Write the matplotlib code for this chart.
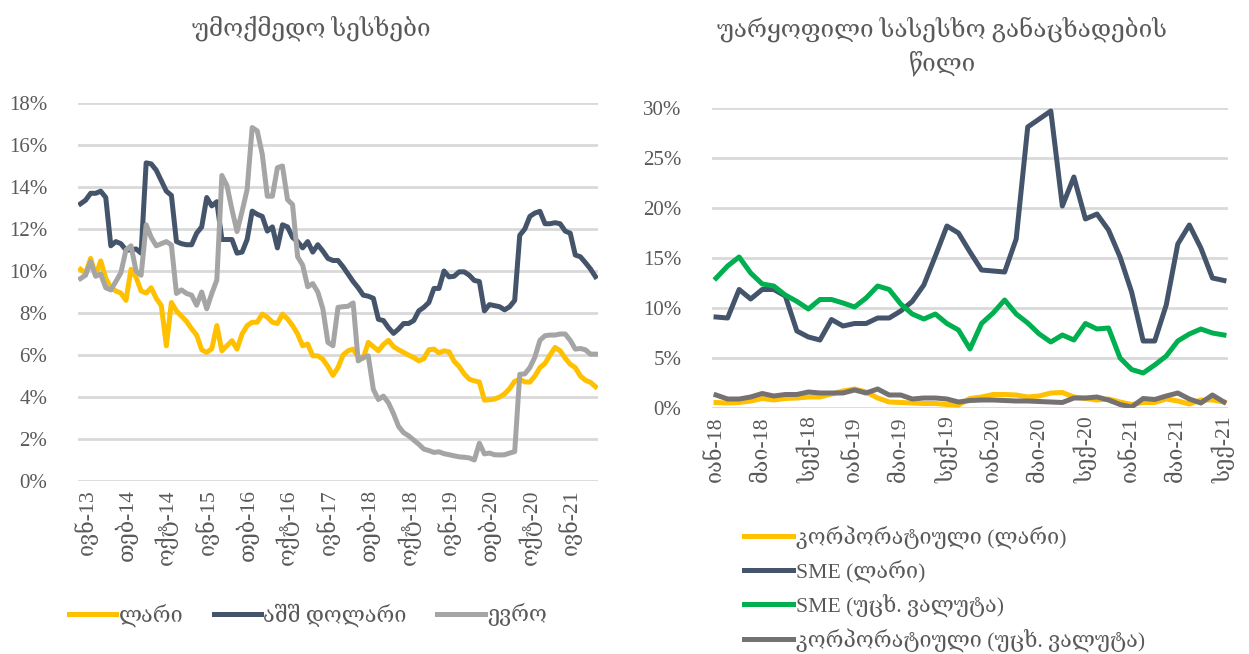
import matplotlib
matplotlib.use("Agg")
import matplotlib.pyplot as plt
import numpy as np

plt.rcParams['font.family'] = ['Liberation Serif', 'DejaVu Serif', 'DejaVu Sans']

# ---------------- left chart data (monthly, %) ----------------
left_ticklabels = ["ივნ-13", "თებ-14", "ოქტ-14", "ივნ-15", "თებ-16", "ოქტ-16", "ივნ-17",
                   "თებ-18", "ოქტ-18", "ივნ-19", "თებ-20", "ოქტ-20", "ივნ-21"]
lari = [10.08, 9.88, 10.6, 9.8, 10.48, 9.65, 9.2, 9.05, 8.95, 8.6,
        10.08, 9.7, 9.05, 8.95, 9.2, 8.7, 8.35, 6.44, 8.5, 8.1,
        7.85, 7.6, 7.25, 6.95, 6.25, 6.12, 6.3, 7.4, 6.2, 6.44,
        6.68, 6.28, 7.0, 7.4, 7.56, 7.56, 7.95, 7.8, 7.56, 7.5,
        7.95, 7.72, 7.4, 7.0, 6.44, 6.52, 5.96, 5.96, 5.8, 5.45,
        5.03, 5.4, 6.0, 6.2, 6.28, 5.9, 5.85, 6.6, 6.4, 6.2,
        6.5, 6.7, 6.4, 6.25, 6.12, 5.99, 5.88, 5.72, 5.83, 6.25,
        6.28, 6.1, 6.2, 6.15, 5.7, 5.45, 5.1, 4.85, 4.77, 4.71,
        3.85, 3.87, 3.9, 4.0, 4.15, 4.4, 4.75, 4.84, 4.72, 4.71,
        5.0, 5.4, 5.6, 6.0, 6.36, 6.2, 5.85, 5.56, 5.4, 5.0,
        4.8, 4.7, 4.49]
usd = [13.2, 13.37, 13.7, 13.7, 13.8, 13.5, 11.2, 11.4, 11.3, 11.0,
       11.0, 11.05, 10.85, 15.15, 15.1, 14.8, 14.3, 13.8, 13.6, 11.4,
       11.3, 11.25, 11.25, 11.8, 12.1, 13.5, 13.1, 13.3, 11.5, 11.5,
       11.5, 10.85, 10.9, 11.5, 12.85, 12.7, 12.6, 11.9, 12.1, 11.1,
       12.2, 12.1, 11.6, 11.4, 11.1, 11.4, 10.9, 11.25, 10.95, 10.6,
       10.5, 10.5, 10.2, 9.85, 9.5, 9.2, 8.85, 8.8, 8.7, 7.7,
       7.64, 7.3, 7.03, 7.24, 7.5, 7.5, 7.64, 8.1, 8.27, 8.5,
       9.17, 9.17, 10.0, 9.72, 9.75, 9.96, 9.96, 9.8, 9.55, 9.5,
       8.1, 8.4, 8.35, 8.3, 8.15, 8.3, 8.6, 11.7, 12.0, 12.6,
       12.76, 12.84, 12.25, 12.25, 12.3, 12.25, 11.9, 11.8, 10.76, 10.68,
       10.4, 10.1, 9.73]
eur = [9.64, 9.8, 10.45, 9.75, 9.85, 9.2, 9.1, 9.5, 9.92, 11.0,
       11.2, 10.0, 9.8, 12.2, 11.6, 11.2, 11.3, 11.4, 11.24, 8.93,
       9.1, 8.93, 8.85, 8.37, 9.0, 8.2, 8.93, 9.57, 14.55, 14.07,
       12.92, 11.88, 12.84, 13.88, 16.83, 16.67, 15.56, 13.56, 13.56, 14.92,
       15.0, 13.4, 13.16, 10.68, 10.28, 9.25, 9.4, 9.0, 8.2, 6.6,
       6.44, 8.27, 8.3, 8.32, 8.48, 5.72, 5.88, 5.96, 4.36, 3.88,
       4.04, 3.72, 3.2, 2.6, 2.3, 2.15, 1.95, 1.75, 1.52, 1.45,
       1.36, 1.39, 1.3, 1.25, 1.2, 1.15, 1.13, 1.1, 1.0, 1.8,
       1.29, 1.33, 1.25, 1.24, 1.25, 1.33, 1.4, 5.08, 5.1, 5.4,
       5.9, 6.7, 6.92, 6.95, 6.95, 7.0, 7.0, 6.7, 6.28, 6.31,
       6.25, 6.04, 6.04]

# ---------------- right chart data (monthly, %) ----------------
right_ticklabels = ["იან-18", "მაი-18", "სექ-18", "იან-19", "მაი-19", "სექ-19",
                    "იან-20", "მაი-20", "სექ-20", "იან-21", "მაი-21", "სექ-21"]
corp_lari = [0.55, 0.5, 0.55, 0.7, 0.95, 0.8, 0.95, 1.0, 1.1, 1.1,
             1.4, 1.7, 1.9, 1.6, 1.0, 0.6, 0.55, 0.5, 0.45, 0.45,
             0.35, 0.3, 0.95, 1.1, 1.35, 1.35, 1.3, 1.1, 1.2, 1.5,
             1.55, 1.1, 0.95, 0.8, 0.9, 0.6, 0.35, 0.55, 0.55, 0.9,
             0.7, 0.4, 0.8, 0.8, 0.6]
sme_lari = [9.1, 9.0, 11.85, 10.9, 11.85, 11.85, 11.2, 7.7, 7.1, 6.8,
            8.85, 8.2, 8.45, 8.45, 9.0, 9.0, 9.7, 10.66, 12.3, 15.2,
            18.2, 17.5, 15.6, 13.8, 13.7, 13.6, 16.9, 28.1, 28.9, 29.7,
            20.2, 23.1, 18.9, 19.4, 17.8, 15.1, 11.6, 6.7, 6.7, 10.3,
            16.4, 18.3, 16.0, 13.0, 12.75]
sme_fx = [12.98, 14.2, 15.1, 13.5, 12.4, 12.2, 11.3, 10.66, 9.9, 10.85,
          10.85, 10.5, 10.1, 11.0, 12.2, 11.85, 10.4, 9.4, 8.9, 9.4,
          8.45, 7.8, 5.9, 8.45, 9.5, 10.8, 9.4, 8.5, 7.4, 6.6,
          7.3, 6.8, 8.45, 7.9, 8.0, 5.0, 3.85, 3.5, 4.3, 5.2,
          6.7, 7.4, 7.9, 7.5, 7.3]
corp_fx = [1.3, 0.9, 0.9, 1.1, 1.45, 1.2, 1.35, 1.35, 1.6, 1.5,
           1.5, 1.5, 1.8, 1.5, 1.9, 1.3, 1.3, 0.9, 1.0, 1.0,
           0.9, 0.6, 0.75, 0.8, 0.8, 0.75, 0.7, 0.7, 0.65, 0.6,
           0.55, 1.0, 1.0, 1.1, 0.8, 0.35, 0.1, 0.95, 0.85, 1.2,
           1.5, 0.9, 0.5, 1.3, 0.6]

YELLOW = "#FFC000"
NAVY = "#44546A"
LGRAY = "#A5A5A5"
GREEN = "#00B050"
DGRAY = "#767171"
GRID = "#D9D9D9"
TXT = "#595959"

W, H = 1249, 654
fig = plt.figure(figsize=(W / 100, H / 100), dpi=100)
FS = 15
LFS = 15.6
TFS = 17.5
LW = 3.6


def px_axes(x0, x1, ytop, ybot):
    return fig.add_axes([x0 / W, 1 - ybot / H, (x1 - x0) / W, (ybot - ytop) / H])


def style(ax, ymax, ystep):
    ax.set_ylim(0, ymax)
    ax.set_yticks(np.arange(0, ymax + 0.001, ystep))
    ax.set_yticklabels([f"{int(v)}%" for v in np.arange(0, ymax + 0.001, ystep)])
    ax.grid(axis='y', color=GRID, linewidth=2)
    ax.set_axisbelow(True)
    for s in ax.spines.values():
        s.set_visible(False)
    ax.tick_params(length=0, colors=TXT, labelsize=FS)
    ax.tick_params(axis='x', labelsize=15.6)
    ax.tick_params(axis='y', pad=22)
    ax.tick_params(axis='x', pad=6)


# ---------------- left ----------------
axL = px_axes(78, 598, 103, 481)
xl = np.arange(len(lari))
axL.plot(xl, lari, color=YELLOW, lw=LW, solid_joinstyle='round', label="ლარი")
axL.plot(xl, usd, color=NAVY, lw=LW, solid_joinstyle='round', label="აშშ დოლარი")
axL.plot(xl, eur, color=LGRAY, lw=LW, solid_joinstyle='round', label="ევრო")
style(axL, 18, 2)
axL.set_xlim(-0.5, len(lari) - 0.5)
axL.set_xticks(np.arange(1, len(lari), 8)[:len(left_ticklabels)])
axL.set_xticklabels(left_ticklabels, rotation=90)
axL.legend(loc='center left', bbox_to_anchor=(60 / W, 1 - 615 / H), bbox_transform=fig.transFigure,
           ncol=3, frameon=False, fontsize=LFS, handlelength=2.2, handletextpad=0.1,
           columnspacing=1.4, labelcolor=TXT, borderaxespad=0)

# ---------------- right ----------------
axR = px_axes(712, 1228, 108, 408)
xr = np.arange(len(sme_lari))
axR.plot(xr, corp_lari, color=YELLOW, lw=LW, solid_joinstyle='round', label="კორპორატიული (ლარი)")
axR.plot(xr, sme_lari, color=NAVY, lw=LW, solid_joinstyle='round', label="SME (ლარი)")
axR.plot(xr, sme_fx, color=GREEN, lw=LW, solid_joinstyle='round', label="SME (უცხ. ვალუტა)")
axR.plot(xr, corp_fx, color=DGRAY, lw=LW, solid_joinstyle='round', label="კორპორატიული (უცხ. ვალუტა)")
style(axR, 30, 5)
axR.set_xlim(-0.35, len(sme_lari) - 0.65)
axR.set_xticks(np.arange(0, len(sme_lari), 4))
axR.set_xticklabels(right_ticklabels, rotation=90)
axR.legend(loc='upper left', bbox_to_anchor=(735 / W, 1 - 516 / H), bbox_transform=fig.transFigure,
           ncol=1, frameon=False, fontsize=LFS, handlelength=2.3, handletextpad=0.1,
           labelspacing=0.5, labelcolor=TXT, borderaxespad=0)

# ---------------- titles ----------------
fig.text(311 / W, 1 - 28 / H, "უმოქმედო სესხები", ha='center', va='center', fontsize=TFS, color=TXT)
fig.text(942 / W, 1 - 46 / H, "უარყოფილი სასესხო განაცხადების\nწილი", ha='center', va='center',
         fontsize=TFS, color=TXT, linespacing=1.45)

fig.savefig("out.png", dpi=100)
